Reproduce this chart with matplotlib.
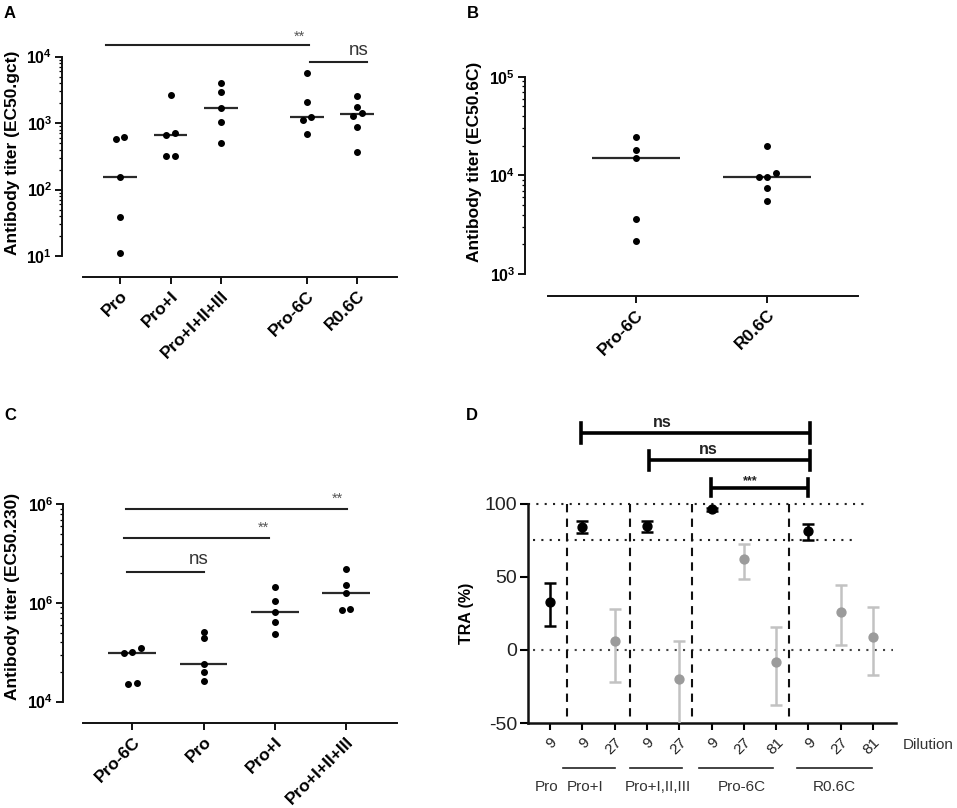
import numpy as np
import matplotlib
matplotlib.use("Agg")
import matplotlib.pyplot as plt
from matplotlib.ticker import FixedLocator, NullFormatter
from matplotlib.transforms import blended_transform_factory

plt.rcParams['font.family'] = ['Liberation Sans', 'DejaVu Sans']
plt.rcParams['mathtext.fontset'] = 'custom'
plt.rcParams['mathtext.rm'] = 'Liberation Sans'
plt.rcParams['mathtext.bf'] = 'Liberation Sans:bold'

# ---------------- data ----------------
# Panel A  (EC50.gct)
a_categories = ["Pro", "Pro+I", "Pro+I+II+III", "Pro-6C", "R0.6C"]
a_pro = [625, 577, 153, 38, 11.2]
a_pro_i = [2650, 702, 654, 324, 324]
a_pro_i_ii_iii = [3970, 2900, 1667, 1052, 507]
a_pro_6c = [5620, 2100, 1250, 1115, 676]
a_r06c = [2560, 1766, 1420, 1280, 883, 363]
a_ticks = [10, 100, 1000, 10000]
a_ticklabels = [r"$\mathbf{10^{1}}$", r"$\mathbf{10^{2}}$", r"$\mathbf{10^{3}}$", r"$\mathbf{10^{4}}$"]

# Panel B  (EC50.6C)
b_categories = ["Pro-6C", "R0.6C"]
b_pro_6c = [24650, 18070, 14860, 3580, 2140]
b_r06c = [19800, 10480, 9540, 9540, 7450, 5500]
b_ticks = [1e3, 1e4, 1e5]
b_ticklabels = [r"$\mathbf{10^{3}}$", r"$\mathbf{10^{4}}$", r"$\mathbf{10^{5}}$"]

# Panel C  (EC50.230)
c_categories = ["Pro-6C", "Pro", "Pro+I", "Pro+I+II+III"]
c_pro_6c = [31400, 32100, 35200, 15000, 15460]
c_pro = [50500, 43900, 24100, 20000, 16300]
c_pro_i = [144000, 105700, 80400, 64100, 48500]
c_pro_i_ii_iii = [221000, 153500, 127400, 85000, 86300]
c_ticks = [1e4, 1e5, 1e6]
c_ticklabels = [r"$\mathbf{10^{4}}$", r"$\mathbf{10^{6}}$", r"$\mathbf{10^{6}}$"]

# Panel D  (TRA %)
d_dilutions = ["9", "9", "27", "9", "27", "9", "27", "81", "9", "27", "81"]
d_mean = [32.5, 84.5, 6.1, 85.0, -20.1, 96.4, 62.2, -8.3, 81.5, 26.1, 8.8]
d_upper = [45.7, 88.4, 28.0, 88.6, 5.9, 97.5, 72.4, 15.4, 86.1, 44.2, 29.1]
d_lower = [16.1, 79.9, -21.7, 80.6, -58.0, 95.3, 48.5, -37.5, 75.4, 3.6, -17.4]
d_is_first = [True, True, False, True, False, True, False, False, True, False, False]
d_groups = ["Pro", "Pro+I", "Pro+I,II,III", "Pro-6C", "R0.6C"]
d_yticks = [-50, 0, 50, 100]

# ---------------- figure ----------------
W, H = 957, 808
fig = plt.figure(figsize=(W / 100, H / 100), dpi=100)


def add_ax(x0, y0, x1, y1):
    return fig.add_axes([x0 / W, 1 - y1 / H, (x1 - x0) / W, (y1 - y0) / H])


def style_log_axis(ax, ticks, labels, xbounds, fs_y=11.5):
    ax.set_yscale('log')
    ax.spines['top'].set_visible(False)
    ax.spines['right'].set_visible(False)
    ax.spines['left'].set_bounds(ticks[0], ticks[-1])
    ax.spines['bottom'].set_bounds(*xbounds)
    for s in ('left', 'bottom'):
        ax.spines[s].set_linewidth(1.4)
        ax.spines[s].set_color('#111111')
    ax.yaxis.set_major_locator(FixedLocator(ticks))
    ax.set_yticklabels(labels, fontsize=fs_y)
    minors = []
    k0 = int(round(np.log10(ticks[0])))
    k1 = int(round(np.log10(ticks[-1])))
    for k in range(k0, k1):
        for m in range(2, 10):
            minors.append(m * 10.0 ** k)
    ax.yaxis.set_minor_locator(FixedLocator(minors))
    ax.yaxis.set_minor_formatter(NullFormatter())
    ax.tick_params(axis='y', which='major', direction='out', length=5, width=1.3, pad=2)
    ax.tick_params(axis='y', which='minor', direction='out', length=2.5, width=0.9)
    ax.tick_params(axis='x', which='major', direction='out', length=5, width=1.3, pad=3)


def draw_groups(ax, positions, groups, half=0.335, w_px=8.7, thr_px=5.5):
    for p, vals in zip(positions, groups):
        vals = np.asarray(vals, float)
        cx_px = ax.transData.transform((p, vals[0]))[0]
        ypx = np.array([ax.transData.transform((p, v))[1] for v in vals])
        order = np.argsort(ypx)
        offsets = np.zeros(len(vals))
        cluster = [order[0]]
        clusters = []
        for idx in order[1:]:
            if ypx[idx] - ypx[cluster[-1]] < thr_px:
                cluster.append(idx)
            else:
                clusters.append(cluster)
                cluster = [idx]
        clusters.append(cluster)
        for cl in clusters:
            n = len(cl)
            for j, idx in enumerate(cl):
                offsets[idx] = (j - (n - 1) / 2) * w_px
        inv = ax.transData.inverted()
        xs = [inv.transform((cx_px + o, ypx[i]))[0] for i, o in enumerate(offsets)]
        med = np.median(vals)
        ax.plot([p - half, p + half], [med, med], color='#2a2a2a', lw=1.6,
                solid_capstyle='butt', zorder=2)
        ax.plot(xs, vals, 'o', color='black', ms=4.0, zorder=3, clip_on=False)


def xlabels(ax, positions, labels, fs=12.5):
    ax.set_xticks(positions)
    ax.set_xticklabels(labels, rotation=45, ha='right', va='top',
                       rotation_mode='anchor', fontsize=fs, fontweight='bold')


# ---------------- Panel A ----------------
axA = add_ax(62, 30, 397, 277)
a_pos = [0, 1, 2, 3.7, 4.7]
axA.set_xlim(-1.149, 5.485)
axA.set_yscale('log')
axA.set_ylim(10 ** 0.684, 10 ** 4.401)
style_log_axis(axA, a_ticks, a_ticklabels, (-0.733, 5.485))
xlabels(axA, a_pos, a_categories)
draw_groups(axA, a_pos, [a_pro, a_pro_i, a_pro_i_ii_iii, a_pro_6c, a_r06c])
axA.plot([-0.277, 3.75], [10 ** 4.176] * 2, color='#222222', lw=1.5, clip_on=False)
axA.text(3.56, 10 ** 4.30, "**", ha='center', va='center', fontsize=10.5, color='#555555')
axA.plot([3.76, 4.885], [10 ** 3.915] * 2, color='#222222', lw=1.5, clip_on=False)
axA.text(4.72, 10 ** 4.10, "ns", ha='center', va='center', fontsize=13.5, color='#333333')

# ---------------- Panel B ----------------
axB = add_ax(525, 30, 858, 296)
b_pos = [0, 1]
axB.set_xlim(-0.845, 1.69)
axB.set_yscale('log')
axB.set_ylim(10 ** 2.777, 10 ** 5.473)
style_log_axis(axB, b_ticks, b_ticklabels, (-0.668, 1.69))
xlabels(axB, b_pos, b_categories)
draw_groups(axB, b_pos, [b_pro_6c, b_r06c])

# ---------------- Panel C ----------------
axC = add_ax(63, 470, 397, 723.3)
c_pos = [0, 1, 2, 3]
axC.set_xlim(-0.973, 3.717)
axC.set_yscale('log')
axC.set_ylim(10 ** 3.78, 10 ** 6.348)
style_log_axis(axC, c_ticks, c_ticklabels, (-0.69, 3.717))
xlabels(axC, c_pos, c_categories)
draw_groups(axC, c_pos, [c_pro_6c, c_pro, c_pro_i, c_pro_i_ii_iii])
for (x0, x1, ly, tx, ty, t, fs) in [(-0.088, 3.01, 5.956, 2.875, 6.06, "**", 10.5),
                                    (-0.11, 1.92, 5.659, 1.84, 5.767, "**", 10.5),
                                    (-0.07, 1.007, 5.311, 0.927, 5.436, "ns", 13.5)]:
    axC.plot([x0, x1], [10 ** ly] * 2, color='#222222', lw=1.5, clip_on=False)
    axC.text(tx, 10 ** ty, t, ha='center', va='center', fontsize=fs,
             color='#555555' if t == "**" else '#333333')

# ---------------- Panel D ----------------
axD = add_ax(528, 425, 896, 723)
d_pos = np.arange(len(d_mean))
axD.set_xlim(-0.68, 10.71)
axD.set_ylim(-50, 154)
axD.spines['top'].set_visible(False)
axD.spines['right'].set_visible(False)
axD.spines['left'].set_bounds(-50, 100)
for s in ('left', 'bottom'):
    axD.spines[s].set_linewidth(1.8)
    axD.spines[s].set_color('#111111')
axD.set_yticks(d_yticks)
axD.set_yticklabels([str(v) for v in d_yticks], fontsize=14, color='#222222')
axD.set_xticks(d_pos)
axD.set_xticklabels(d_dilutions, rotation=45, ha='right', va='top',
                    rotation_mode='anchor', fontsize=11, color='#222222')
axD.tick_params(axis='y', direction='out', length=6, width=1.5, pad=2)
axD.tick_params(axis='x', direction='out', length=5, width=1.5, pad=4)

# reference lines
axD.plot([-0.68, 9.75], [100, 100], ls=(0, (1, 3)), color='#222222', lw=1.5, zorder=1)
axD.plot([-0.53, 9.54], [75, 75], ls=(0, (1, 3)), color='#222222', lw=1.5, zorder=1)
axD.plot([-0.53, 10.62], [0, 0], ls=(0, (1, 3)), color='#444444', lw=1.5, zorder=1)
for xv in [0.53, 2.48, 4.39, 7.41]:
    axD.plot([xv, xv], [100, -47.7], ls=(0, (4, 3)), color='#111111', lw=1.5, zorder=1)

for i in range(len(d_mean)):
    col = 'black' if d_is_first[i] else '#9b9b9b'
    ecol = 'black' if d_is_first[i] else '#c2c2c2'
    axD.errorbar([d_pos[i]], [d_mean[i]],
                 yerr=[[d_mean[i] - d_lower[i]], [d_upper[i] - d_mean[i]]],
                 fmt='o', color=col, ecolor=ecol, ms=6.4, elinewidth=1.8,
                 capsize=4, capthick=1.8, zorder=3)

# significance brackets
for (x0, x1, y, cap, tx, ty, t, fs) in [(0.96, 8.05, 148.6, 7.0, 3.46, 155.5, "ns", 11.5),
                                        (3.07, 8.05, 129.7, 6.2, 4.9, 137.3, "ns", 11.5),
                                        (4.97, 8.0, 111.2, 5.5, 6.21, 115.7, "***", 9)]:
    axD.plot([x0, x1], [y, y], color='black', lw=2.6, clip_on=False, solid_capstyle='butt')
    axD.plot([x0, x0], [y - cap, y + cap], color='black', lw=2.6, clip_on=False)
    axD.plot([x1, x1], [y - cap, y + cap], color='black', lw=2.6, clip_on=False)
    axD.text(tx, ty, t, ha='center', va='center', fontsize=fs, fontweight='bold',
             color='#222222')

# group annotation under the dilution axis
trD = blended_transform_factory(axD.transData, axD.transAxes)
for (x0, x1) in [(0.40, 2.01), (2.48, 4.09), (4.61, 6.90), (7.65, 9.97)]:
    axD.plot([x0, x1], [-0.151, -0.151], color='#222222', lw=1.2,
             transform=trD, clip_on=False)
for xg, g in zip([-0.09, 1.08, 3.34, 5.94, 8.79], d_groups):
    axD.text(xg, -0.215, g, transform=trD, ha='center', va='center',
             fontsize=11, color='#333333')
axD.text(11.7, -0.074, "Dilution", transform=trD, ha='center', va='center',
         fontsize=11, color='#333333')

# ---------------- labels ----------------
fig.text(12.7 / W, 1 - 153 / H, "Antibody titer (EC50.gct)", rotation=90,
         ha='center', va='center', fontsize=12.5, fontweight='bold')
fig.text(474 / W, 1 - 162 / H, "Antibody titer (EC50.6C)", rotation=90,
         ha='center', va='center', fontsize=12.5, fontweight='bold')
fig.text(13 / W, 1 - 596 / H, "Antibody titer (EC50.230)", rotation=90,
         ha='center', va='center', fontsize=12.5, fontweight='bold')
fig.text(467 / W, 1 - 613 / H, "TRA (%)", rotation=90,
         ha='center', va='center', fontsize=11.5, fontweight='bold')

for (x, y, t) in [(10, 14, "A"), (473, 14, "B"), (10, 415, "C"), (472, 415, "D")]:
    fig.text(x / W, 1 - y / H, t, ha='center', va='center', fontsize=12, fontweight='bold')

fig.savefig("out.png", dpi=100)
